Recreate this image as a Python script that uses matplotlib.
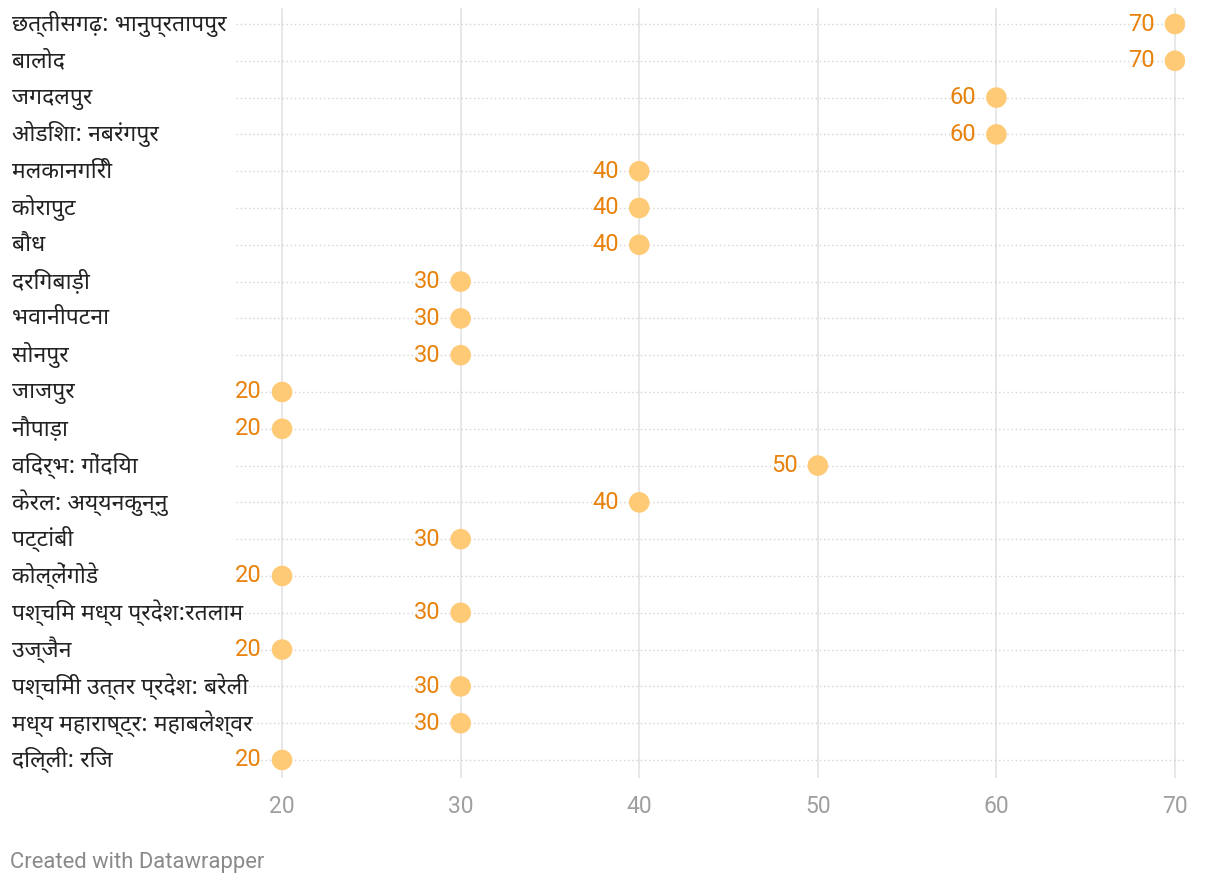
import matplotlib
matplotlib.use("Agg")
import matplotlib.pyplot as plt

# stations (top to bottom) and their values
stations = [
    "छत्तीसगढ़: भानुप्रतापपुर", "बालोद", "जगदलपुर", "ओडिशा: नबरंगपुर",
    "मलकानगिरी", "कोरापुट", "बौध", "दरिंगबाड़ी", "भवानीपटना", "सोनपुर",
    "जाजपुर", "नौपाड़ा", "विदर्भ: गोंदिया", "केरल: अय्यनकुन्नु", "पट्टांबी",
    "कोल्लेंगोडे", "पश्चिम मध्य प्रदेश:रतलाम", "उज्जैन",
    "पश्चिमी उत्तर प्रदेश: बरेली", "मध्य महाराष्ट्र: महाबलेश्वर", "दिल्ली: रिज",
]
values = [70, 70, 60, 60, 40, 40, 40, 30, 30, 30, 20, 20, 50, 40, 30, 20, 30, 20, 30, 30, 20]
xticks = [20, 30, 40, 50, 60, 70]

DEV = ["Noto Sans Devanagari", "Mukta", "Hind", "DejaVu Sans"]
NUM = ["Roboto", "DejaVu Sans"]

fig = plt.figure(figsize=(12.2, 8.88), dpi=100)
ax = fig.add_axes([236/1220, 110/888, (1185-236)/1220, 770/888])

rows = list(range(len(stations)))
for x in xticks:
    ax.axvline(x, color="#e3e3e3", lw=1.2, zorder=0)
for r in rows:
    ax.axhline(r, color="#d4d4d4", lw=1, ls=(0, (1, 2)), zorder=1)

ax.scatter(values, rows, s=220, color="#ffca76", edgecolor="none", zorder=3)
for v, r in zip(values, rows):
    ax.annotate(str(v), (v, r), xytext=(-14.5, 0), textcoords="offset points",
                ha="right", va="center", fontsize=17, color="#e8820c", family=NUM)

ax.set_xlim(17.42, 70.56)
ax.set_ylim(20.49, -0.435)
ax.set_xticks(xticks)
ax.set_xticklabels([str(x) for x in xticks], family=NUM, fontsize=16.5, color="#9f9f9f")
ax.tick_params(axis="x", length=0, pad=12)
ax.set_yticks([])
for s in ax.spines.values():
    s.set_visible(False)

# row labels, left aligned at the figure edge
for name, r in zip(stations, rows):
    ax.annotate(name, (0, r), xycoords=("figure pixels", "data"), xytext=(12, 0),
                textcoords="offset pixels", ha="left", va="center",
                fontsize=16.5, color="#222222", family=DEV)

fig.text(10/1220, 1 - 862/888, "Created with Datawrapper", family=NUM,
         fontsize=15.8, color="#8a8a8a", ha="left", va="center")

fig.savefig("out.png", dpi=100)
